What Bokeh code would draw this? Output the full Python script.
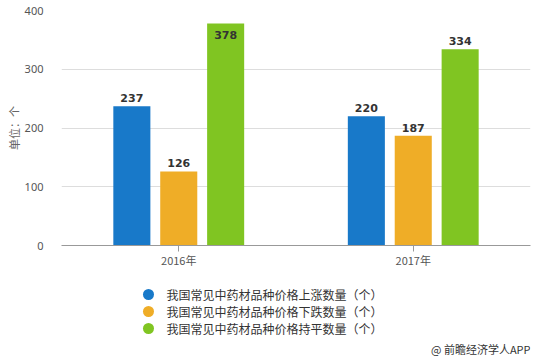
from bokeh.plotting import figure
from bokeh.layouts import column
from bokeh.models import ColumnDataSource, FactorRange, Range1d, Label
from bokeh.transform import dodge
from bokeh.core.properties import value
from bokeh.embed import file_html
from bokeh.resources import INLINE

years = ["2016年", "2017年"]
rise = [237, 220]
fall = [126, 187]
flat = [378, 334]
series_names = ["我国常见中药材品种价格上涨数量（个）",
                "我国常见中药材品种价格下跌数量（个）",
                "我国常见中药材品种价格持平数量（个）"]
colors = ["#1879c9", "#efad27", "#80c522"]
y_max = 400
y_ticks = [0, 100, 200, 300, 400]

CJK = "Noto Sans CJK SC"

W = 536
FL, FR = 61, 530  # frame left / right in page pixels
p = figure(width=W, height=275, x_range=FactorRange(factors=years),
           y_range=Range1d(0, y_max), output_backend="svg", toolbar_location=None,
           min_border_left=FL, min_border_right=W - FR, min_border_top=10, min_border_bottom=30)
p.outline_line_color = None

offsets = [-0.2, 0.0, 0.2]
series = [rise, fall, flat]
frame_h = 235.0
px_per_unit = frame_h / y_max
for vals, off, col in zip(series, offsets, colors):
    inside = [(y_max - v) * px_per_unit < 16 for v in vals]
    src = ColumnDataSource(dict(
        x=years, top=vals, label=[str(v) for v in vals],
        base=["top" if i else "bottom" for i in inside],
        yoff=[8 if i else -4 for i in inside]))
    p.vbar(x=dodge("x", off, range=p.x_range), top="top", width=0.158, source=src,
           fill_color=col, line_color=None)
    p.text(x=dodge("x", off, range=p.x_range), y="top", text="label", source=src,
           text_align="center", text_baseline="base", y_offset="yoff",
           text_font=value("DejaVu Sans"), text_font_style="bold",
           text_font_size="11px", text_color="#333333")

# axes
p.xaxis.axis_line_color = "#999999"
p.xaxis.major_tick_line_color = "#999999"
p.xaxis.major_tick_out = 6
p.xaxis.major_tick_in = 0
p.xaxis.minor_tick_line_color = None
p.xaxis.major_label_text_font = CJK
p.xaxis.major_label_text_font_size = "11px"
p.xaxis.major_label_text_color = "#555555"
p.xaxis.major_label_standoff = 0
p.xgrid.grid_line_color = None

p.yaxis.ticker = y_ticks
p.yaxis.axis_line_color = None
p.yaxis.major_tick_line_color = None
p.yaxis.minor_tick_line_color = None
p.yaxis.major_label_text_font = "Noto Sans"
p.yaxis.major_label_text_font_size = "11px"
p.yaxis.major_label_text_color = "#555555"
p.yaxis.major_label_standoff = 12
p.yaxis.axis_label = "单位：个"
p.yaxis.axis_label_text_font = CJK
p.yaxis.axis_label_text_font_size = "11px"
p.yaxis.axis_label_text_font_style = "normal"
p.yaxis.axis_label_text_color = "#666666"
p.yaxis.axis_label_standoff = 0
p.ygrid.grid_line_color = "#dddddd"

# legend panel (manual legend; x in page pixels since frames align, y downwards)
LH = 85
q = figure(width=W, height=LH, x_range=Range1d(FL, FR), y_range=Range1d(LH, 0),
           output_backend="svg", toolbar_location=None,
           min_border_left=FL, min_border_right=W - FR,
           min_border_top=0, min_border_bottom=0)
q.axis.visible = False
q.grid.grid_line_color = None
q.outline_line_color = None
row0, row_gap, mark_x, text_x = 19, 17, 148, 166
ly = [row0 + i * row_gap for i in range(len(series_names))]
lsrc = ColumnDataSource(dict(y=ly, name=series_names, color=colors))
q.scatter(x=mark_x, y="y", source=lsrc, marker="circle", size=11,
          fill_color="color", line_color=None)
q.text(x=text_x, y="y", text="name", source=lsrc, text_baseline="middle",
       text_font=value(CJK), text_font_size="12px", text_color="#333333")

footer = Label(x=FR, y=73, text="@ 前瞻经济学人APP", text_align="right",
               text_baseline="middle", text_font=CJK, text_font_size="11px",
               text_color="#333333")
q.add_layout(footer)

layout = column(p, q, spacing=0)
open("out.html", "w").write(file_html(layout, INLINE))
